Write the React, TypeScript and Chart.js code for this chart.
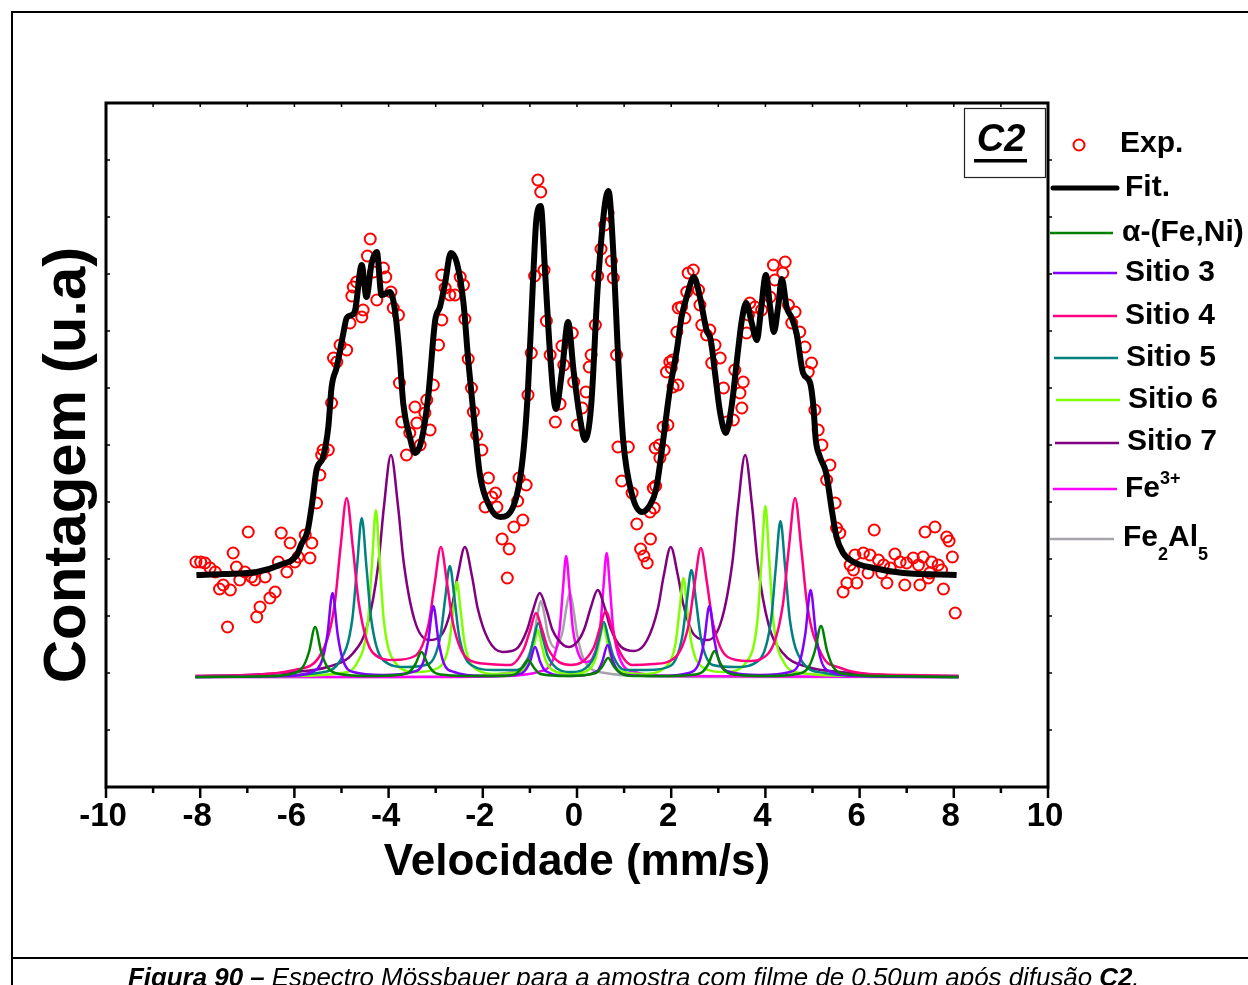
import React, { useEffect, useRef } from "react";
import { Chart, registerables } from "chart.js";
Chart.register(...registerables);

const W = 1248;
const H = 985;

const xTickValues = [-10, -8, -6, -4, -2, 0, 2, 4, 6, 8, 10];
const xTickLabels = ["-10", "-8", "-6", "-4", "-2", "0", "2", "4", "6", "8", "10"];
const yTickStep = 57;
const yMax = 684;

// Experimental points [velocity, counts (u.a.)]
const expData: number[][] = [
  [-8.09, 225], [-7.99, 225], [-7.9, 224], [-7.79, 219], [-7.68, 215], [-7.59, 198], [-7.51, 202], [-7.42, 160],
  [-7.36, 197], [-7.3, 234], [-7.23, 220], [-7.16, 207], [-7.05, 215], [-6.98, 255], [-6.91, 210], [-6.84, 207],
  [-6.8, 170], [-6.73, 180], [-6.62, 210], [-6.52, 189], [-6.41, 195], [-6.34, 225], [-6.28, 254], [-6.16, 215],
  [-6.09, 244], [-5.99, 225], [-5.92, 230], [-5.77, 252], [-5.67, 229], [-5.63, 244], [-5.53, 284], [-5.46, 312],
  [-5.42, 332], [-5.39, 337], [-5.28, 337], [-5.21, 384], [-5.17, 429], [-5.1, 425], [-5.03, 442], [-4.89, 437],
  [-4.82, 464], [-4.78, 491], [-4.75, 500], [-4.68, 505], [-4.57, 470], [-4.54, 477], [-4.45, 531], [-4.39, 548],
  [-4.32, 515], [-4.25, 487], [-4.11, 519], [-4.06, 510], [-3.95, 495], [-3.9, 479], [-3.79, 472], [-3.77, 404],
  [-3.72, 365], [-3.62, 332], [-3.55, 354], [-3.44, 380], [-3.4, 364], [-3.33, 342], [-3.23, 374], [-3.19, 387],
  [-3.12, 357], [-3.05, 402], [-2.94, 442], [-2.87, 467], [-2.87, 512], [-2.8, 499], [-2.7, 492], [-2.59, 492],
  [-2.48, 510], [-2.41, 502], [-2.38, 468], [-2.31, 428], [-2.24, 399], [-2.2, 375], [-2.13, 352], [-2.02, 337],
  [-1.95, 280], [-1.88, 309], [-1.81, 290], [-1.73, 294], [-1.7, 280], [-1.59, 248], [-1.48, 209], [-1.44, 238],
  [-1.34, 260], [-1.26, 286], [-1.23, 309], [-1.15, 267], [-1.08, 302], [-1.04, 392], [-0.97, 434], [-0.9, 511],
  [-0.83, 607], [-0.77, 595], [-0.7, 517], [-0.65, 466], [-0.57, 432], [-0.46, 365], [-0.36, 383], [-0.32, 441],
  [-0.28, 422], [-0.1, 454], [-0.07, 405], [0.01, 362], [0.11, 379], [0.19, 395], [0.26, 420], [0.3, 432],
  [0.39, 462], [0.44, 511], [0.51, 538], [0.59, 562], [0.66, 574], [0.73, 526], [0.77, 509], [0.84, 432],
  [0.87, 340], [0.95, 306], [1.09, 340], [1.17, 294], [1.27, 263], [1.35, 238], [1.42, 231], [1.49, 224],
  [1.55, 275], [1.56, 248], [1.62, 299], [1.64, 279], [1.66, 339], [1.67, 301], [1.75, 342], [1.76, 329],
  [1.83, 360], [1.85, 337], [1.9, 415], [1.93, 362], [1.97, 425], [2.0, 419], [2.03, 427], [2.04, 400],
  [2.12, 455], [2.14, 402], [2.15, 479], [2.22, 480], [2.29, 469], [2.33, 495], [2.36, 514], [2.47, 517],
  [2.58, 497], [2.61, 482], [2.65, 462], [2.75, 452], [2.82, 457], [2.86, 424], [2.93, 442], [3.04, 429],
  [3.11, 399], [3.18, 365], [3.32, 367], [3.35, 417], [3.46, 394], [3.5, 379], [3.53, 405], [3.6, 454],
  [3.64, 472], [3.67, 484], [3.78, 480], [3.92, 477], [4.1, 490], [4.17, 522], [4.2, 507], [4.37, 514],
  [4.42, 525], [4.49, 482], [4.56, 464], [4.63, 475], [4.73, 455], [4.84, 440], [4.91, 415], [4.98, 424],
  [5.05, 377], [5.12, 357], [5.2, 342], [5.3, 307], [5.37, 322], [5.48, 284], [5.51, 259], [5.58, 254],
  [5.65, 195], [5.73, 204], [5.8, 222], [5.87, 217], [5.9, 232], [5.94, 204], [6.08, 234], [6.18, 214],
  [6.22, 232], [6.31, 257], [6.4, 227], [6.47, 214], [6.51, 222], [6.58, 204], [6.65, 219], [6.75, 233],
  [6.86, 225], [6.96, 202], [7.0, 224], [7.14, 229], [7.25, 222], [7.28, 202], [7.35, 230], [7.39, 255],
  [7.46, 209], [7.49, 214], [7.53, 225], [7.6, 260], [7.67, 222], [7.74, 217], [7.78, 198], [7.85, 250],
  [7.9, 246], [7.97, 230], [8.03, 174],
];

// Total fit
const fitData: number[][] = [
  [-8.08, 212], [-7.5, 213], [-6.8, 215], [-6.31, 222], [-5.95, 232], [-5.85, 243], [-5.72, 256], [-5.62, 285],
  [-5.53, 317], [-5.39, 330], [-5.28, 360], [-5.21, 400], [-5.1, 420], [-4.96, 454], [-4.89, 469], [-4.78, 472],
  [-4.71, 477], [-4.57, 522], [-4.47, 490], [-4.36, 524], [-4.25, 535], [-4.15, 492], [-3.97, 495], [-3.86, 475],
  [-3.76, 427], [-3.69, 384], [-3.55, 350], [-3.44, 334], [-3.3, 347], [-3.16, 390], [-3.01, 467], [-2.91, 480],
  [-2.8, 504], [-2.68, 534], [-2.55, 524], [-2.41, 484], [-2.31, 427], [-2.2, 374], [-2.06, 312], [-1.85, 280],
  [-1.63, 270], [-1.34, 282], [-1.15, 330], [-1.04, 398], [-0.94, 500], [-0.86, 569], [-0.77, 581], [-0.68, 517],
  [-0.57, 432], [-0.45, 378], [-0.32, 415], [-0.19, 465], [-0.07, 415], [0.08, 364], [0.17, 347], [0.3, 381],
  [0.44, 500], [0.59, 582], [0.67, 596], [0.77, 535], [0.87, 432], [0.98, 347], [1.17, 292], [1.38, 275],
  [1.55, 282], [1.68, 298], [1.83, 347], [1.97, 397], [2.12, 437], [2.22, 470], [2.33, 490], [2.48, 510],
  [2.61, 490], [2.75, 457], [2.84, 447], [2.93, 414], [3.04, 374], [3.16, 354], [3.28, 380], [3.42, 437],
  [3.5, 467], [3.59, 484], [3.71, 464], [3.82, 447], [3.9, 474], [4.01, 512], [4.1, 480], [4.18, 455],
  [4.27, 480], [4.35, 508], [4.45, 480], [4.56, 469], [4.66, 454], [4.8, 414], [4.95, 404], [5.02, 380],
  [5.07, 347], [5.16, 330], [5.29, 314], [5.41, 277], [5.51, 250], [5.65, 234], [5.87, 225], [6.29, 219],
  [6.93, 214], [8.06, 212],
];

// Sub-spectra
const alphaFeNi: number[][] = [
  [-8.1, 110], [-6.5, 111], [-6.08, 113], [-5.82, 120], [-5.69, 135], [-5.56, 160], [-5.43, 135], [-5.3, 120],
  [-5.04, 113], [-4.4, 111], [-3.82, 112], [-3.56, 115], [-3.43, 123], [-3.3, 135], [-3.17, 123], [-3.04, 115],
  [-2.78, 112], [-2.2, 111], [-1.56, 111], [-1.3, 113], [-1.17, 119], [-1.04, 127], [-0.91, 119], [-0.78, 113],
  [-0.19, 111], [0.4, 114], [0.53, 120], [0.66, 129], [0.79, 120], [0.92, 114], [1.18, 111], [1.8, 111],
  [2.4, 112], [2.66, 115], [2.79, 123], [2.92, 136], [3.05, 123], [3.18, 115], [3.44, 112], [4.05, 111],
  [4.66, 113], [4.92, 120], [5.05, 136], [5.18, 161], [5.31, 136], [5.44, 120], [5.7, 113], [6.5, 111], [8.1, 110],
];
const sitio3: number[][] = [
  [-8.1, 110], [-6.2, 111], [-5.63, 115], [-5.41, 127], [-5.3, 152], [-5.19, 194], [-5.08, 152], [-4.97, 127],
  [-4.75, 115], [-4.12, 112], [-3.49, 115], [-3.27, 124], [-3.16, 146], [-3.05, 181], [-2.94, 146], [-2.83, 124],
  [-2.61, 115], [-1.97, 111], [-1.33, 112], [-1.11, 116], [-1.0, 125], [-0.89, 140], [-0.78, 125], [-0.67, 116],
  [-0.12, 111], [0.43, 116], [0.54, 126], [0.65, 142], [0.76, 126], [0.87, 116], [1.09, 112], [1.73, 111],
  [2.37, 114], [2.59, 124], [2.7, 146], [2.81, 181], [2.92, 146], [3.03, 124], [3.25, 115], [3.88, 112],
  [4.52, 115], [4.74, 127], [4.85, 154], [4.96, 197], [5.07, 154], [5.18, 127], [5.4, 115], [6.0, 111], [8.1, 110],
];
const sitio4: number[][] = [
  [-8.1, 111], [-7.0, 112], [-6.0, 117], [-5.45, 132], [-5.15, 181], [-5.02, 240], [-4.89, 289], [-4.76, 240],
  [-4.63, 183], [-4.33, 134], [-3.89, 127], [-3.44, 131], [-3.15, 163], [-3.02, 204], [-2.89, 240], [-2.76, 204],
  [-2.63, 163], [-2.32, 128], [-1.88, 123], [-1.42, 122], [-1.13, 138], [-1.0, 156], [-0.87, 174], [-0.74, 157],
  [-0.61, 138], [-0.13, 122], [0.35, 139], [0.48, 158], [0.61, 176], [0.74, 159], [0.87, 139], [1.18, 122],
  [1.62, 123], [2.07, 129], [2.37, 162], [2.5, 204], [2.63, 239], [2.76, 204], [2.89, 163], [3.2, 130],
  [3.63, 126], [4.07, 134], [4.37, 182], [4.5, 240], [4.63, 289], [4.76, 239], [4.89, 181], [5.2, 132],
  [5.6, 119], [6.2, 113], [7.0, 112], [8.1, 111],
];
const sitio5: number[][] = [
  [-8.1, 110], [-6.5, 111], [-5.5, 114], [-5.02, 127], [-4.77, 168], [-4.67, 220], [-4.57, 269], [-4.47, 220],
  [-4.37, 168], [-4.12, 127], [-3.63, 120], [-3.15, 123], [-2.9, 151], [-2.8, 188], [-2.7, 221], [-2.6, 188],
  [-2.5, 150], [-2.25, 122], [-1.76, 117], [-1.27, 117], [-1.02, 130], [-0.92, 148], [-0.82, 164], [-0.72, 148],
  [-0.62, 131], [-0.37, 117], [-0.13, 115], [0.12, 117], [0.37, 131], [0.47, 148], [0.57, 165], [0.67, 148],
  [0.77, 131], [1.02, 117], [1.5, 117], [1.98, 121], [2.23, 149], [2.33, 185], [2.43, 217], [2.53, 185],
  [2.63, 149], [2.88, 122], [3.37, 120], [3.87, 127], [4.12, 167], [4.22, 219], [4.32, 266], [4.42, 219],
  [4.52, 167], [4.77, 126], [5.25, 114], [6.2, 111], [8.1, 110],
];
const sitio6: number[][] = [
  [-8.1, 110], [-6.0, 111], [-5.0, 114], [-4.67, 124], [-4.44, 165], [-4.35, 225], [-4.27, 277], [-4.19, 225],
  [-4.1, 166], [-3.87, 125], [-3.41, 115], [-2.95, 119], [-2.72, 142], [-2.63, 176], [-2.55, 205], [-2.47, 176],
  [-2.38, 142], [-2.15, 118], [-1.69, 113], [-1.23, 115], [-1.0, 126], [-0.91, 142], [-0.83, 157], [-0.75, 142],
  [-0.66, 126], [-0.43, 115], [-0.135, 113], [0.16, 115], [0.39, 128], [0.48, 146], [0.56, 162], [0.64, 146],
  [0.73, 128], [0.96, 115], [1.41, 113], [1.86, 119], [2.09, 143], [2.18, 178], [2.26, 209], [2.34, 178],
  [2.43, 144], [2.66, 120], [3.13, 115], [3.6, 125], [3.83, 166], [3.92, 228], [4.0, 281], [4.08, 228],
  [4.17, 166], [4.4, 124], [4.75, 114], [6.0, 111], [8.1, 110],
];
const sitio7: number[][] = [
  [-8.1, 111], [-7.0, 112], [-6.0, 115], [-5.3, 120], [-4.75, 134], [-4.45, 162], [-4.22, 222], [-4.1, 280],
  [-3.95, 332], [-3.8, 281], [-3.68, 225], [-3.45, 167], [-3.15, 147], [-2.88, 152], [-2.65, 182], [-2.53, 212],
  [-2.38, 240], [-2.23, 211], [-2.11, 179], [-1.88, 147], [-1.58, 135], [-1.29, 138], [-1.06, 157], [-0.94, 176],
  [-0.79, 194], [-0.64, 176], [-0.52, 157], [-0.29, 142], [-0.17, 140], [0.05, 148], [0.17, 160], [0.29, 179],
  [0.44, 197], [0.59, 179], [0.71, 159], [0.94, 140], [1.22, 136], [1.49, 147], [1.72, 179], [1.84, 211],
  [1.99, 240], [2.14, 212], [2.26, 182], [2.49, 152], [2.78, 147], [3.07, 167], [3.3, 225], [3.42, 281],
  [3.57, 332], [3.72, 280], [3.84, 222], [4.07, 162], [4.37, 134], [4.9, 120], [5.6, 115], [6.5, 112], [8.1, 111],
];
const fe3: number[][] = [
  [-8.1, 110], [-3.0, 110], [-1.5, 111], [-0.83, 115], [-0.53, 125], [-0.37, 157], [-0.3, 197], [-0.23, 231],
  [-0.16, 198], [-0.09, 159], [0.07, 129], [0.2, 125], [0.33, 129], [0.49, 159], [0.56, 199], [0.63, 234],
  [0.7, 199], [0.77, 158], [0.93, 126], [1.23, 115], [2.0, 111], [8.1, 110],
];
const fe2al5: number[][] = [
  [-8.1, 110], [-4.0, 110], [-2.5, 111], [-1.5, 114], [-1.08, 126], [-0.92, 149], [-0.85, 169], [-0.77, 186],
  [-0.69, 172], [-0.62, 153], [-0.46, 139], [-0.3, 157], [-0.23, 178], [-0.15, 194], [-0.07, 176], [0.0, 153],
  [0.16, 126], [0.6, 114], [1.5, 111], [3.0, 110], [8.1, 110],
];

const colExp = "#FF0000";
const colFit = "#000000";
const colAlpha = "#008000";
const colS3 = "#8000FF";
const colS4 = "#FF0080";
const colS5 = "#008080";
const colS6 = "#80FF00";
const colS7 = "#800080";
const colFe3 = "#FF00FF";
const colFeAl = "#A8A2AA";

const FONT = '"Liberation Sans", Arial, Helvetica, sans-serif';

const decorPlugin = {
  id: "decor",
  afterDraw(chart: any) {
    const { ctx, chartArea: a, scales } = chart;
    const xs = scales.x;
    const ys = scales.y;
    ctx.save();
    ctx.strokeStyle = "#000";
    ctx.fillStyle = "#000";
    ctx.lineCap = "butt";

    // outer page frame
    ctx.lineWidth = 2;
    ctx.beginPath();
    ctx.moveTo(12, H);
    ctx.lineTo(12, 12);
    ctx.lineTo(W, 12);
    ctx.stroke();
    ctx.beginPath();
    ctx.moveTo(12, 958);
    ctx.lineTo(W, 958);
    ctx.stroke();

    // plot frame
    ctx.lineWidth = 3;
    ctx.strokeRect(a.left, a.top, a.right - a.left, a.bottom - a.top);

    // x ticks
    for (let v = -10; v <= 10; v++) {
      const px = xs.getPixelForValue(v);
      const major = v % 2 === 0;
      ctx.lineWidth = 2.5;
      ctx.beginPath();
      ctx.moveTo(px, a.bottom);
      ctx.lineTo(px, a.bottom + (major ? 11 : 6));
      ctx.stroke();
      ctx.lineWidth = 1.5;
      ctx.beginPath();
      ctx.moveTo(px, a.top);
      ctx.lineTo(px, a.top + 4);
      ctx.stroke();
    }
    // y ticks
    for (let v = yTickStep; v < yMax; v += yTickStep) {
      const py = ys.getPixelForValue(v);
      ctx.lineWidth = 1.5;
      ctx.beginPath();
      ctx.moveTo(a.left, py);
      ctx.lineTo(a.left + 4, py);
      ctx.stroke();
      ctx.beginPath();
      ctx.moveTo(a.right, py);
      ctx.lineTo(a.right + 4, py);
      ctx.stroke();
    }

    // tick labels
    ctx.font = `bold 33px ${FONT}`;
    ctx.textAlign = "center";
    ctx.textBaseline = "middle";
    xTickValues.forEach((v, i) => {
      ctx.fillText(xTickLabels[i], xs.getPixelForValue(v) - 3, 817);
    });

    // axis titles
    ctx.font = `bold 44px ${FONT}`;
    ctx.fillText("Velocidade (mm/s)", (a.left + a.right) / 2, 863);
    ctx.save();
    ctx.translate(68, 465);
    ctx.rotate(-Math.PI / 2);
    ctx.font = `bold 60px ${FONT}`;
    ctx.fillText("Contagem (u.a)", 0, 0);
    ctx.restore();

    // C2 box
    ctx.lineWidth = 1.2;
    ctx.strokeStyle = "#222";
    ctx.strokeRect(964.5, 108.5, 81, 69);
    ctx.font = `italic bold 38px ${FONT}`;
    ctx.fillText("C2", 1001, 141);
    ctx.fillRect(974, 159, 53, 3.5);

    // legend
    ctx.textAlign = "left";
    ctx.strokeStyle = colExp;
    ctx.lineWidth = 2;
    ctx.beginPath();
    ctx.arc(1079, 145, 5.5, 0, Math.PI * 2);
    ctx.stroke();
    const legLines: [number, number, number, string, number][] = [
      [1053, 1117, 188, colFit, 5],
      [1050, 1113, 233, colAlpha, 2.5],
      [1053, 1117, 273, colS3, 2.5],
      [1053, 1117, 316, colS4, 2.5],
      [1054, 1118, 358, colS5, 2.5],
      [1056, 1120, 400, colS6, 2.5],
      [1055, 1119, 443, colS7, 2.5],
      [1053, 1117, 489, colFe3, 2.5],
      [1050, 1114, 539, colFeAl, 2.5],
    ];
    legLines.forEach(([x0, x1, y, c, w]) => {
      ctx.strokeStyle = c;
      ctx.lineWidth = w;
      ctx.lineCap = w > 3 ? "round" : "butt";
      ctx.beginPath();
      ctx.moveTo(x0, y);
      ctx.lineTo(x1, y);
      ctx.stroke();
    });
    ctx.fillStyle = "#000";
    ctx.font = `bold 30px ${FONT}`;
    const legTexts: [string, number, number][] = [
      ["Exp.", 1120, 144],
      ["Fit.", 1125, 188],
      ["α-(Fe,Ni)", 1122, 233],
      ["Sitio 3", 1125, 273],
      ["Sitio 4", 1125, 316],
      ["Sitio 5", 1126, 358],
      ["Sitio 6", 1128, 400],
      ["Sitio 7", 1127, 442],
    ];
    legTexts.forEach(([t, x, y]) => ctx.fillText(t, x, y));
    // Fe3+
    let x = 1125;
    ctx.fillText("Fe", x, 489);
    x += ctx.measureText("Fe").width;
    ctx.font = `bold 18px ${FONT}`;
    ctx.fillText("3+", x, 479);
    // Fe2Al5
    ctx.font = `bold 30px ${FONT}`;
    x = 1123;
    ctx.fillText("Fe", x, 538);
    x += ctx.measureText("Fe").width;
    ctx.font = `bold 18px ${FONT}`;
    ctx.fillText("2", x, 555);
    x += ctx.measureText("2").width;
    ctx.font = `bold 30px ${FONT}`;
    ctx.fillText("Al", x, 538);
    x += ctx.measureText("Al").width;
    ctx.font = `bold 18px ${FONT}`;
    ctx.fillText("5", x, 555);

    // caption
    const parts: [string, string][] = [
      ["Figura 90 –", "italic bold"],
      [" Espectro Mössbauer para a amostra com filme de 0,50µm após difusão ", "italic"],
      ["C2", "italic bold"],
      [".", "italic"],
    ];
    const base = 22;
    let tot = 0;
    parts.forEach(([t, f]) => {
      ctx.font = `${f} ${base}px ${FONT}`;
      tot += ctx.measureText(t).width;
    });
    const size = (base * 1012) / tot;
    ctx.textBaseline = "alphabetic";
    x = 128;
    parts.forEach(([t, f]) => {
      ctx.font = `${f} ${size}px ${FONT}`;
      ctx.fillText(t, x, 986);
      x += ctx.measureText(t).width;
    });
    ctx.restore();
  },
};

export default function App() {
  const ref = useRef<HTMLCanvasElement>(null);
  useEffect(() => {
    const toPts = (arr: number[][]) => arr.map(([x, y]) => ({ x, y }));
    const line = (label: string, data: number[][], color: string, width: number) => ({
      label,
      data: toPts(data),
      borderColor: color,
      backgroundColor: color,
      borderWidth: width,
      pointRadius: 0,
      showLine: true,
      fill: false,
      cubicInterpolationMode: "monotone" as const,
    });
    const chart = new Chart(ref.current as HTMLCanvasElement, {
      type: "line",
      data: {
        datasets: [
          line("Fit.", fitData, colFit, 6),
          {
            label: "Exp.",
            data: toPts(expData),
            showLine: false,
            pointRadius: 5.5,
            pointBorderWidth: 2,
            pointBorderColor: colExp,
            pointBackgroundColor: "rgba(0,0,0,0)",
            borderColor: colExp,
            backgroundColor: "rgba(0,0,0,0)",
          } as any,
          line("α-(Fe,Ni)", alphaFeNi, colAlpha, 2.5),
          line("Sitio 3", sitio3, colS3, 2.5),
          line("Sitio 4", sitio4, colS4, 2.5),
          line("Sitio 5", sitio5, colS5, 2.5),
          line("Sitio 6", sitio6, colS6, 2.5),
          line("Sitio 7", sitio7, colS7, 2.5),
          line("Fe3+", fe3, colFe3, 2.5),
          line("Fe2Al5", fe2al5, colFeAl, 2.5),
        ],
      },
      options: {
        responsive: false,
        animation: false,
        devicePixelRatio: 1,
        layout: { padding: { left: 106, top: 103, right: 200, bottom: 198 } },
        plugins: { legend: { display: false }, tooltip: { enabled: false } },
        scales: {
          x: { type: "linear", min: -10, max: 10, display: false },
          y: { type: "linear", min: 0, max: yMax, display: false },
        },
      },
      plugins: [decorPlugin],
    });
    return () => chart.destroy();
  }, []);
  return (
    <div style={{ position: "absolute", left: 0, top: 0, width: W, height: H, background: "#fff", overflow: "hidden" }}>
      <canvas ref={ref} width={W} height={H} style={{ display: "block", width: W, height: H }} />
    </div>
  );
}
